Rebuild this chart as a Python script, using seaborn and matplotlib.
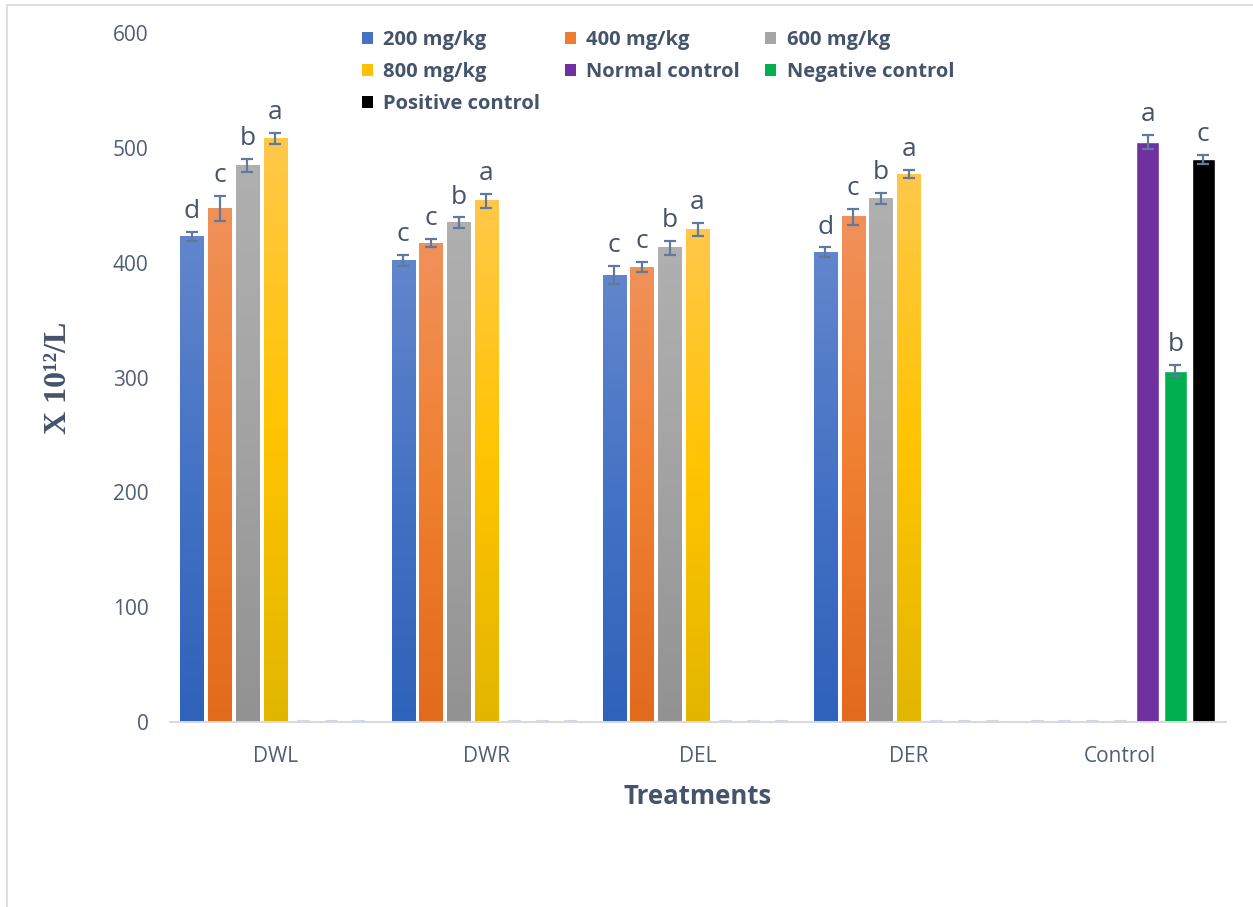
import numpy as np
import pandas as pd
import matplotlib
matplotlib.use("Agg")
import matplotlib.pyplot as plt
from matplotlib.colors import LinearSegmentedColormap
from matplotlib.patches import Patch, Rectangle
from matplotlib.container import BarContainer
import seaborn as sns

# ---- data -------------------------------------------------------------
groups = ["DWL", "DWR", "DEL", "DER", "Control"]
series = ["200 mg/kg", "400 mg/kg", "600 mg/kg", "800 mg/kg",
          "Normal control", "Negative control", "Positive control"]

dose_200 = [423, 402, 389, 409, 0]
dose_400 = [447, 417, 396, 440, 0]
dose_600 = [485, 435, 413, 456, 0]
dose_800 = [508, 454, 429, 477, 0]
normal_ctrl = [0, 0, 0, 0, 505]
negative_ctrl = [0, 0, 0, 0, 306]
positive_ctrl = [0, 0, 0, 0, 490]

err_200 = [3.8, 4.6, 8.0, 4.3, 0]
err_400 = [11.0, 3.3, 4.5, 7.0, 0]
err_600 = [5.7, 4.4, 6.0, 4.8, 0]
err_800 = [5.0, 6.0, 5.8, 3.4, 0]
err_normal = [0, 0, 0, 0, 6.4]
err_negative = [0, 0, 0, 0, 4.8]
err_positive = [0, 0, 0, 0, 3.9]

let_200 = ["d", "c", "c", "d", ""]
let_400 = ["c", "c", "c", "c", ""]
let_600 = ["b", "b", "b", "b", ""]
let_800 = ["a", "a", "a", "a", ""]
let_normal = ["", "", "", "", "a"]
let_negative = ["", "", "", "", "b"]
let_positive = ["", "", "", "", "c"]

values = [dose_200, dose_400, dose_600, dose_800, normal_ctrl, negative_ctrl, positive_ctrl]
errors = [err_200, err_400, err_600, err_800, err_normal, err_negative, err_positive]
letters = [let_200, let_400, let_600, let_800, let_normal, let_negative, let_positive]

# ---- styling ----------------------------------------------------------
mid_colors = ["#4472C4", "#ED7D31", "#A5A5A5", "#FFC000", "#7030A0", "#00B050", "#000000"]
# gradient stops (bottom, middle, top) for the dose series
gradients = [
    ("#2F62BA", "#4472C4", "#6286CC"),
    ("#E26A1C", "#F07F30", "#F0915A"),
    ("#929292", "#A3A3A3", "#B0B0B0"),
    ("#E2B600", "#FFC400", "#FFC84A"),
]
text_col = "#44546A"
tick_col = "#505E74"

sns.set_theme(style="white")
plt.rcParams["font.family"] = ["Open Sans", "DejaVu Sans"]

df = pd.DataFrame({
    "Treatment": np.tile(groups, len(series)),
    "Series": np.repeat(series, len(groups)),
    "Value": np.concatenate(values),
})

fig = plt.figure(figsize=(12.53, 9.07), dpi=100)
ax = fig.add_axes([169.5 / 1253, 1 - 722 / 907, 1056 / 1253, 689 / 907])

sns.barplot(data=df, x="Treatment", y="Value", hue="Series", hue_order=series,
            order=groups, palette=mid_colors, saturation=1, width=0.92, gap=0.17,
            errorbar=None, legend=False, ax=ax)

bar_containers = [c for c in ax.containers if isinstance(c, BarContainer)]

# gradient fills, error bars and significance letters
for i, cont in enumerate(bar_containers):
    for j, patch in enumerate(cont.patches):
        x0, w, h = patch.get_x(), patch.get_width(), patch.get_height()
        cx = x0 + w / 2
        v, e, lab = values[i][j], errors[i][j], letters[i][j]
        if i < 4 and h > 0:
            bot, mid, top = gradients[i]
            cmap = LinearSegmentedColormap.from_list(f"g{i}", [bot, mid, top])
            grad = np.linspace(0, 1, 256).reshape(-1, 1)
            ax.imshow(grad, extent=(x0, x0 + w, 0, h), origin="lower",
                      aspect="auto", cmap=cmap, zorder=2, interpolation="bilinear")
            patch.set_visible(False)
        if v > 0:
            ax.errorbar(cx, v, yerr=e, color="#5E7B9F", elinewidth=1.6,
                        capsize=4.5, capthick=1.6, zorder=4, fmt="none")
            ax.annotate(lab, (cx, v + e), xytext=(0, 10), textcoords="offset points",
                        ha="center", va="baseline", fontsize=19, color=text_col)
        else:
            # empty slot: only the flat error-bar cap shows on the baseline
            ax.errorbar(cx, 1.2, yerr=0, color="#D3DAE4", elinewidth=1.0,
                        capsize=4.5, capthick=2.2, zorder=3.5, fmt="none",
                        clip_on=False)

ax.set_xlim(-0.5, len(groups) - 0.5)
ax.set_ylim(0, 600)
ax.set_yticks(range(0, 601, 100))
ax.set_xlabel("")
ax.set_ylabel("")
ax.tick_params(axis="both", length=0, labelsize=15, labelcolor=tick_col)
ax.tick_params(axis="x", pad=17)
ax.tick_params(axis="y", pad=15)
for s in ["left", "top", "right"]:
    ax.spines[s].set_visible(False)
ax.spines["bottom"].set_color("#D9D9D9")
ax.spines["bottom"].set_linewidth(1.4)
ax.spines["bottom"].set_zorder(3)
ax.grid(False)

# axis titles
fig.text(58 / 1253, 1 - 378 / 907, "X 10\u00b9\u00b2/L", rotation=90, ha="center",
         va="center", fontsize=23, fontweight="bold", color=text_col,
         family="Liberation Serif")
fig.text(698 / 1253, 1 - 797 / 907, "Treatments", ha="center", va="center",
         fontsize=18.5, fontweight="bold", color=text_col)

# legend, filled row by row across three columns
handles = [Patch(facecolor=c, edgecolor="none") for c in mid_colors]
order = [0, 3, 6, 1, 4, 2, 5]
leg = fig.legend([handles[k] for k in order], [series[k] for k in order],
                 ncol=3, loc="upper left", bbox_to_anchor=(362 / 1253, 1 - 30 / 907),
                 frameon=False, fontsize=14.5, handlelength=0.55, handleheight=0.55,
                 handletextpad=0.5, columnspacing=1.25, labelspacing=0.6,
                 borderpad=0, borderaxespad=0)
for t in leg.get_texts():
    t.set_color(text_col)
    t.set_fontweight("bold")

# chart-area border
fig.add_artist(Rectangle((7 / 1253, -0.1), 1.2, 1.1 - 5 / 907, transform=fig.transFigure,
                         fill=False, edgecolor="#D9D9D9", linewidth=1.2))

fig.savefig("out.png", dpi=100)
